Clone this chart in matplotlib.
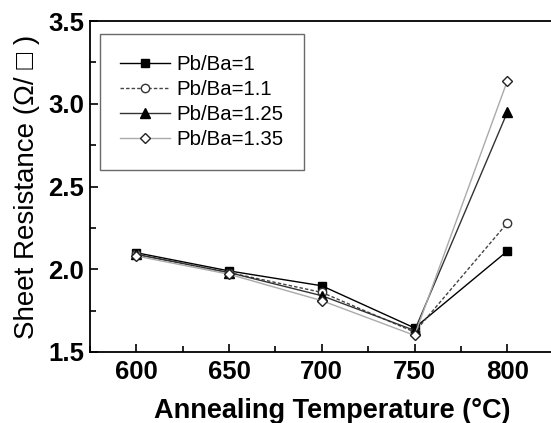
import matplotlib
matplotlib.use("Agg")
import matplotlib.pyplot as plt
from matplotlib.ticker import MultipleLocator

plt.rcParams['font.family'] = ['Liberation Sans', 'DejaVu Sans']

temps = [600, 650, 700, 750, 800]
r_100 = [2.10, 1.99, 1.90, 1.645, 2.11]
r_110 = [2.09, 1.98, 1.86, 1.62, 2.28]
r_125 = [2.09, 1.98, 1.84, 1.63, 2.95]
r_135 = [2.08, 1.97, 1.81, 1.60, 3.14]
labels = ['Pb/Ba=1', 'Pb/Ba=1.1', 'Pb/Ba=1.25', 'Pb/Ba=1.35']

fig = plt.figure(figsize=(5.51, 4.23), dpi=100)
ax = fig.add_axes([0.163, 0.168, 0.837, 0.782])

ax.plot(temps, r_100, color='black', lw=1.0, marker='s', ms=5.5,
        mfc='black', mec='black', label=labels[0])
ax.plot(temps, r_110, color='#444444', lw=1.0, ls=(0, (2.5, 1.5)), marker='o', ms=6,
        mfc='white', mec='#333333', label=labels[1])
ax.plot(temps, r_125, color='#333333', lw=1.0, marker='^', ms=6.5,
        mfc='black', mec='black', label=labels[2])
ax.plot(temps, r_135, color='#aaaaaa', lw=1.0, marker='D', ms=5,
        mfc='white', mec='#222222', label=labels[3])

ax.set_xlim(575, 823.5)
ax.set_ylim(1.5, 3.5)
ax.xaxis.set_major_locator(MultipleLocator(50))
ax.xaxis.set_minor_locator(MultipleLocator(25))
ax.yaxis.set_major_locator(MultipleLocator(0.5))
ax.yaxis.set_minor_locator(MultipleLocator(0.25))
ax.yaxis.set_major_formatter(matplotlib.ticker.FormatStrFormatter('%.1f'))
ax.tick_params(which='both', direction='in', top=False, right=False,
               labelsize=18.5, width=1.2)
ax.tick_params(which='major', length=6)
ax.tick_params(axis='x', which='major', pad=6)
ax.tick_params(axis='y', which='major', pad=4)
ax.tick_params(which='minor', length=4)
for t in ax.get_xticklabels() + ax.get_yticklabels():
    t.set_fontweight('bold')
ax.spines['right'].set_visible(False)
for s in ['left', 'bottom', 'top']:
    ax.spines[s].set_linewidth(1.3)

ax.set_xlabel('Annealing Temperature (°C)', fontsize=19.5, fontweight='bold')
ax.xaxis.set_label_coords(0.525, -0.138)
ax.set_ylabel('Sheet Resistance (Ω/ □ )', fontsize=20, labelpad=6)

leg = ax.legend(loc='upper left', bbox_to_anchor=(0.022, 0.96), fontsize=14.7,
                frameon=True, fancybox=False, edgecolor='#444444',
                handlelength=2.45, handletextpad=0.3, labelspacing=0.3,
                borderpad=1.0, borderaxespad=0.0)
leg.get_frame().set_linewidth(1.0)

fig.savefig('out.png', dpi=100)
